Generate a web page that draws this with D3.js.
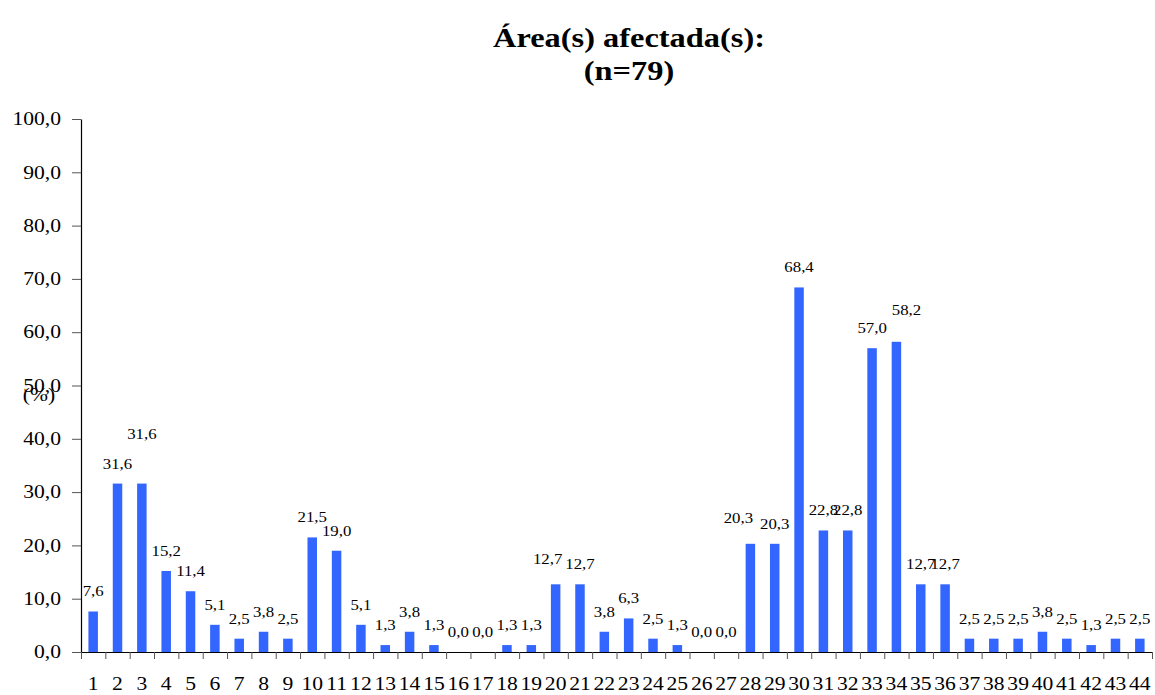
<!DOCTYPE html>
<html>
<head>
<meta charset="utf-8">
<script src="https://cdn.jsdelivr.net/npm/d3@7"></script>
<style>
  html, body { margin: 0; padding: 0; background: #fff; }
  svg { display: block; }
  svg text { font-family: "Liberation Serif", serif; fill: #000; }
</style>
</head>
<body>
<svg id="chart" width="1155" height="695"></svg>
<script>
// Categories and percentages
const categories = d3.range(1, 45).map(String);
const values = [
  7.6, 31.6, 31.6, 15.2, 11.4, 5.1, 2.5, 3.8, 2.5, 21.5,
  19.0, 5.1, 1.3, 3.8, 1.3, 0.0, 0.0, 1.3, 1.3, 12.7,
  12.7, 3.8, 6.3, 2.5, 1.3, 0.0, 0.0, 20.3, 20.3, 68.4,
  22.8, 22.8, 57.0, 58.2, 12.7, 12.7, 2.5, 2.5, 2.5, 3.8,
  2.5, 1.3, 2.5, 2.5
];
const yTicks = [0, 10, 20, 30, 40, 50, 60, 70, 80, 90, 100];
const titleLines = ["Área(s) afectada(s):", "(n=79)"];
const yLabel = "(%)";

// Hand-nudged label positions for a few crowded bars: [category, dx, dy]
const labelNudges = [["3", 0, -30], ["20", -8, -5], ["28", -12, -6], ["34", 10, -12]];
const nudge = new Map(labelNudges.map(d => [d[0], { dx: d[1], dy: d[2] }]));

const SX = 1.2; // horizontal stretch of all text
const fmt = v => v.toFixed(1).replace(".", ",");

const svg = d3.select("#chart").attr("font-family", "Liberation Serif, serif");
const plotLeft = 81, plotRight = 1152, plotTop = 119, plotBottom = 652;

const x = d3.scaleBand().domain(categories).range([plotLeft, plotRight]).paddingInner(0).paddingOuter(0);
const y = d3.scaleLinear().domain([0, 100]).range([plotBottom, plotTop]);
const barW = x.bandwidth() * 0.39;

function stretchedText(g, px, py, str) {
  return g.append("text")
    .attr("transform", `translate(${px},${py}) scale(${SX},1)`)
    .text(str);
}

// Title
const tg = svg.append("g").attr("font-weight", "bold").attr("font-size", 27).attr("text-anchor", "middle");
stretchedText(tg, 629, 47, titleLines[0]);
stretchedText(tg, 629, 80, titleLines[1]);

// Bars
svg.append("g").selectAll("rect")
  .data(values)
  .join("rect")
  .attr("x", (d, i) => x(categories[i]) + x.bandwidth() / 2 - barW / 2)
  .attr("y", d => y(d))
  .attr("width", barW)
  .attr("height", d => y(0) - y(d))
  .attr("fill", "#3366ff");

// Y axis
const yAxis = svg.append("g")
  .attr("transform", `translate(${plotLeft},0)`)
  .call(d3.axisLeft(y).tickValues(yTicks).tickFormat(fmt).tickSize(9).tickSizeOuter(0))
  .attr("font-family", "Liberation Serif, serif");
yAxis.select(".domain").attr("stroke", "#000").attr("stroke-width", 1.2);
yAxis.selectAll(".tick line").attr("stroke", "#555");
yAxis.selectAll(".tick text")
  .attr("x", null)
  .attr("transform", `translate(-20,0) scale(${SX},1)`)
  .attr("font-size", 18)
  .attr("fill", "#000");

// X axis: tick marks at category boundaries, labels at band centres
const xb = d3.scaleLinear().domain([0, categories.length]).range([plotLeft, plotRight]);
const xAxis = svg.append("g")
  .attr("transform", `translate(0,${plotBottom})`)
  .call(d3.axisBottom(xb).tickValues(d3.range(categories.length + 1)).tickFormat("").tickSize(7).tickSizeOuter(0));
xAxis.select(".domain").attr("stroke", "#000").attr("stroke-width", 1.2);
xAxis.selectAll(".tick line").attr("stroke", "#555");

const xl = svg.append("g").attr("font-size", 18).attr("text-anchor", "middle");
categories.forEach(c => stretchedText(xl, x(c) + x.bandwidth() / 2, 690, c));

// Value labels
const vl = svg.append("g").attr("font-size", 14).attr("text-anchor", "middle");
values.forEach((v, i) => {
  const c = categories[i];
  const n = nudge.get(c) || { dx: 0, dy: 0 };
  stretchedText(vl, x(c) + x.bandwidth() / 2 + n.dx, y(v) - 15 + n.dy, fmt(v));
});

// Y axis unit label
const ul = svg.append("g").attr("font-size", 18).attr("text-anchor", "middle");
stretchedText(ul, 39, 401, yLabel);
</script>
</body>
</html>
